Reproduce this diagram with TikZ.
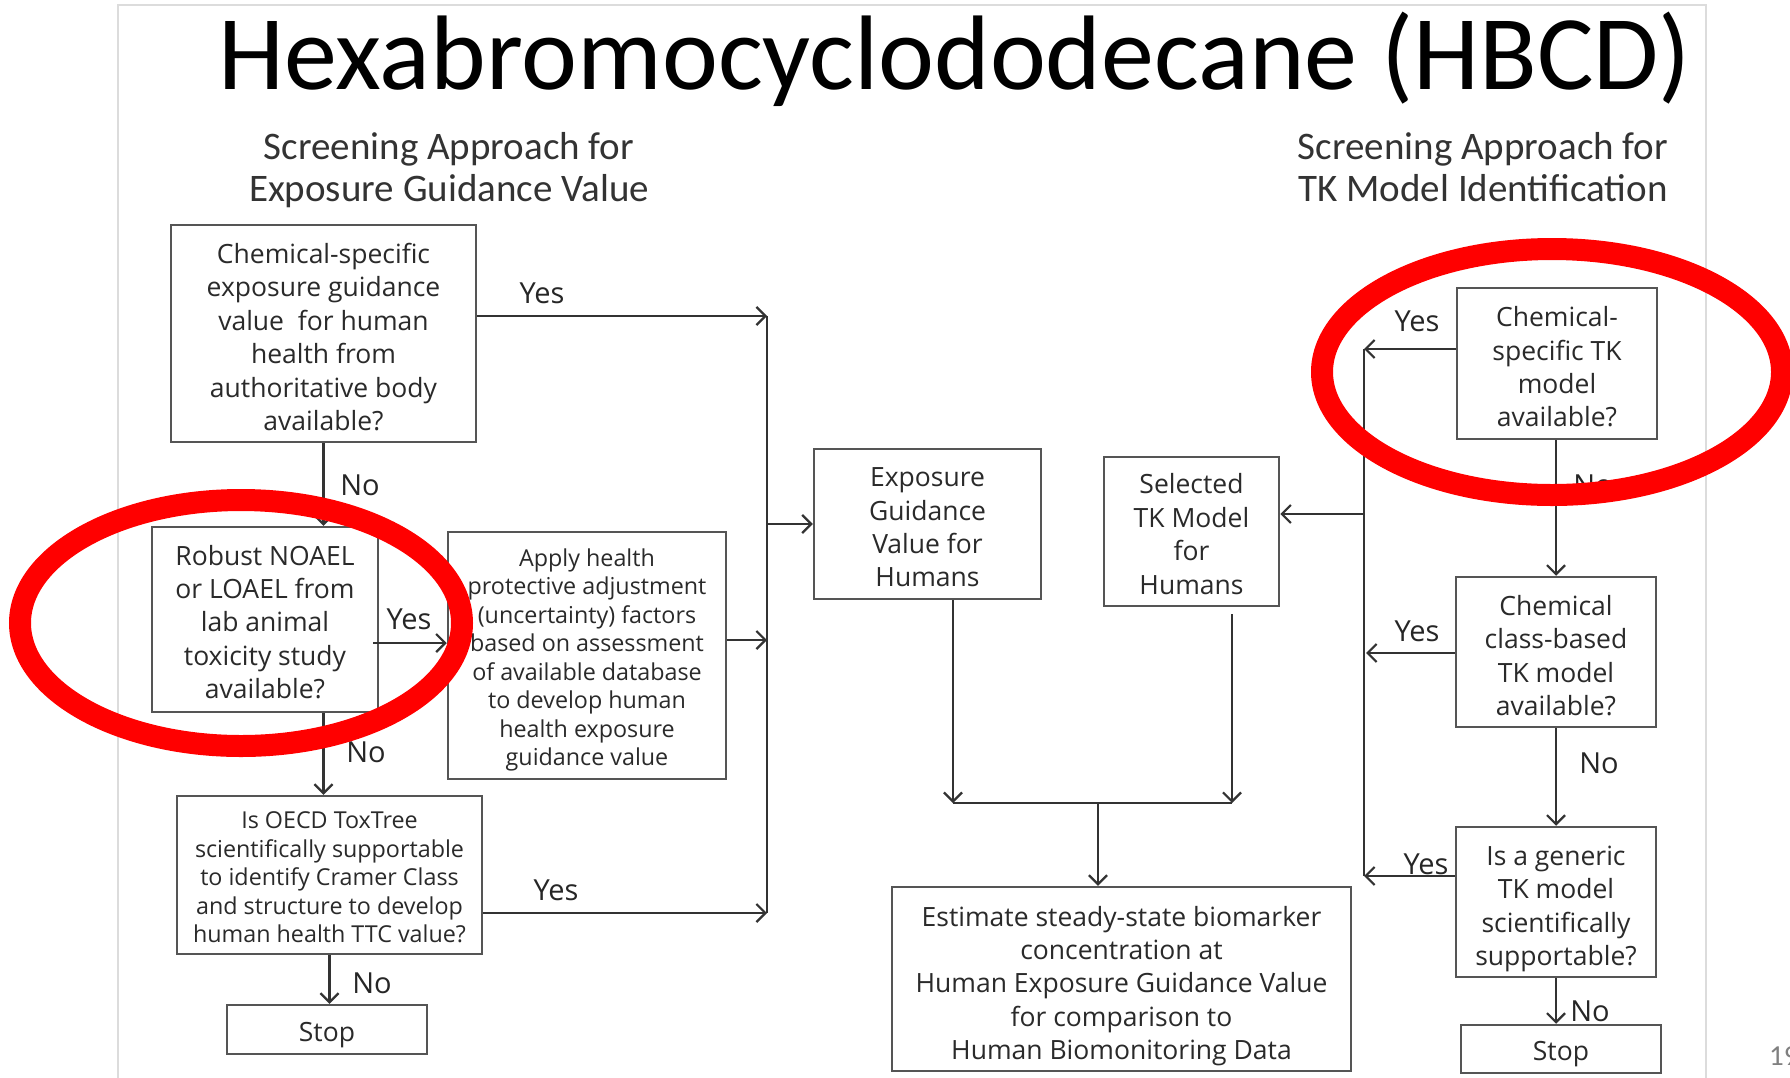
\documentclass[tikz,border=0pt]{standalone}
\usepackage{fontspec}
\setmainfont{Carlito}
\newfontfamily\boxfont{Open Sans}
\usetikzlibrary{arrows.meta}
\definecolor{boxgray}{HTML}{555555}
\definecolor{txtgray}{HTML}{2A2A2A}
\definecolor{subgray}{HTML}{333333}
\definecolor{linegray}{HTML}{333333}
\definecolor{framegray}{HTML}{DCDCDC}
\definecolor{slidered}{HTML}{FF0000}
\begin{document}
\begin{tikzpicture}[x=1pt,y=-1pt,
  fbox/.style={draw=boxgray, line width=2.5pt, inner sep=0pt},
  btext/.style={align=center, inner sep=0pt, text=txtgray,
    font=\boxfont\fontsize{26.5}{33.4}\selectfont},
  stext/.style={btext, font=\boxfont\fontsize{23.3}{28.5}\selectfont},
  lbl/.style={font=\boxfont\fontsize{29}{30}\selectfont, text=black!85, inner sep=0pt},
  conn/.style={draw=linegray, line width=2.2pt},
  arr/.style={conn, -{Straight Barb[length=9pt,width=18pt,line width=2.2pt]}},
  ring/.style={draw=slidered, line width=22pt}
]
\useasboundingbox (0,0) rectangle (1790,1077);
\fill[white] (0,0) rectangle (1790,1077);
\draw[framegray, line width=2pt] (118,5) rectangle (1706,1110);

% titles
\node[anchor=base, inner sep=0pt, font=\fontsize{106}{120}\selectfont] (title) at (955,89) {Hexabromocyclododecane (HBCD)};
\node[align=center, inner sep=0pt, text=subgray, font=\fontsize{39}{42}\selectfont] (subL) at (449,170.5) {Screening Approach for\\Exposure Guidance Value};
\node[align=center, inner sep=0pt, text=subgray, font=\fontsize{39}{42}\selectfont] (subR) at (1483,167) {Screening Approach for\\TK Model Identification};
\node[anchor=base west, inner sep=0pt, text=black!50, font=\fontsize{29}{30}\selectfont] (pg) at (1769,1065) {19};

% left column boxes
\node[fbox, minimum width=305pt, minimum height=217pt] (A) at (323.5,333.5) {};
\node[btext] (At) at ([yshift=-3.5pt]A.center) {Chemical-specific\\exposure guidance\\value\ \ for human\\health from\\authoritative body\\available?};
\node[fbox, minimum width=226pt, minimum height=185pt] (B) at (265,619.5) {};
\node[btext] (Bt) at ([yshift=-2.5pt]B.center) {Robust NOAEL\\or LOAEL from\\lab animal\\toxicity study\\available?};
\node[fbox, minimum width=278pt, minimum height=247pt] (C) at (587,655.5) {};
\node[stext] (Ct) at ([yshift=-4.5pt]C.center) {Apply health\\protective adjustment\\(uncertainty) factors\\based on assessment\\of available database\\to develop human\\health exposure\\guidance value};
\node[fbox, minimum width=305pt, minimum height=158pt] (D) at (329.5,875) {};
\node[stext] (Dt) at ([yshift=-2.5pt]D.center) {Is OECD ToxTree\\scientifically supportable\\to identify Cramer Class\\and structure to develop\\human health TTC value?};
\node[fbox, minimum width=200pt, minimum height=49pt] (StopL) at (327,1029.5) {};
\node[btext] (StopLt) at ([yshift=-5.5pt]StopL.center) {Stop};

% middle boxes
\node[fbox, minimum width=227pt, minimum height=150pt] (E) at (927.5,524) {};
\node[btext] (Et) at ([yshift=-3.5pt]E.center) {Exposure\\Guidance\\Value for\\Humans};
\node[fbox, minimum width=175pt, minimum height=149pt] (F) at (1191.5,531.5) {};
\node[btext] (Ft) at ([yshift=-2.5pt]F.center) {Selected\\TK Model\\for\\Humans};
\node[fbox, minimum width=459pt, minimum height=184pt] (J) at (1121.5,979) {};
\node[btext] (Jt) at ([yshift=-7pt]J.center) {Estimate steady-state biomarker\\concentration at\\Human Exposure Guidance Value\\for comparison to\\Human Biomonitoring Data};

% right column boxes
\node[fbox, minimum width=200pt, minimum height=151pt] (G) at (1557,363.5) {};
\node[btext] (Gt) at ([yshift=-3.5pt]G.center) {Chemical-\\specific TK\\model\\available?};
\node[fbox, minimum width=200pt, minimum height=150pt] (H) at (1556,652) {};
\node[btext] (Ht) at ([yshift=-3.5pt]H.center) {Chemical\\class-based\\TK model\\available?};
\node[fbox, minimum width=200pt, minimum height=150pt] (I) at (1556,902) {};
\node[btext] (It) at ([yshift=-7pt]I.center) {Is a generic\\TK model\\scientifically\\supportable?};
\node[fbox, minimum width=200pt, minimum height=48pt] (StopR) at (1561,1049) {};
\node[btext] (StopRt) at ([yshift=-5pt]StopR.center) {Stop};

% helper coordinates
\coordinate (colTop) at (767,316);
\coordinate (colC) at (767,640);
\coordinate (colBot) at (767,913);
\coordinate (colE) at (767,524);
\coordinate (yBC) at (0,643);
\coordinate (mergeL) at (953,803);
\coordinate (mergeR) at (1232,803);
\coordinate (mergeC) at (1098,803);
\coordinate (rTop) at (1364,349);
\coordinate (rH) at (1366,653);
\coordinate (rBot) at (1364,876);
\coordinate (rF) at (1364,514);

% left connectors
\draw[arr] (A.east |- colTop) -- (colTop);
\draw[arr] (C.east |- colC) -- (colC);
\draw[arr] (D.east |- colBot) -- (colBot);
\draw[conn] (colTop) -- (colBot);
\draw[arr] (colE) -- (E.west);
\draw[arr] (A.south) -- (A.south |- B.north);
\draw[arr] ([xshift=-6pt]B.east |- yBC) -- (C.west |- yBC);
\draw[arr] (A.south |- B.south) -- (A.south |- D.north);
\draw[arr] (D.south) -- (D.south |- StopL.north);

% middle connectors
\draw[arr] (E.south -| mergeL) -- (mergeL);
\draw[arr] ([yshift=-7pt]F.south -| mergeR) -- (mergeR);
\draw[conn] (mergeL) -- (mergeR);
\draw[arr] (mergeC) -- (mergeC |- J.north);

% right connectors
\draw[arr] (G.west |- rTop) -- (rTop);
\draw[arr] (H.west |- rH) -- (rH);
\draw[arr] (I.west |- rBot) -- (rBot);
\draw[conn] (rTop) -- (rBot);
\draw[arr] (rF) -- (F.east |- rF);
\draw[arr] (G.south -| H.north) -- (H.north);
\draw[arr] (H.south) -- (I.north);
\draw[arr] (I.south) -- (I.south |- StopR.north);

% labels
\node[lbl] (yesA) at (542,293) {Yes};
\node[lbl] (noA) at (360,485) {No};
\node[lbl] (yesB) at (409,619) {Yes};
\node[lbl] (noB) at (366,752) {No};
\node[lbl] (yesD) at (556,890) {Yes};
\node[lbl] (noD) at (372,983) {No};
\node[lbl] (yesG) at (1417,321) {Yes};
\node[lbl] (noG) at (1593,485) {No};
\node[lbl] (yesH) at (1417,631) {Yes};
\node[lbl] (noH) at (1599,763) {No};
\node[lbl] (yesI) at (1426,864) {Yes};
\node[lbl] (noI) at (1590,1011) {No};

% red highlight rings
\draw[ring] (241,623) ellipse [x radius=221pt, y radius=123pt];
\draw[ring] (1552,372) ellipse [x radius=230pt, y radius=123pt];
\end{tikzpicture}
\end{document}
